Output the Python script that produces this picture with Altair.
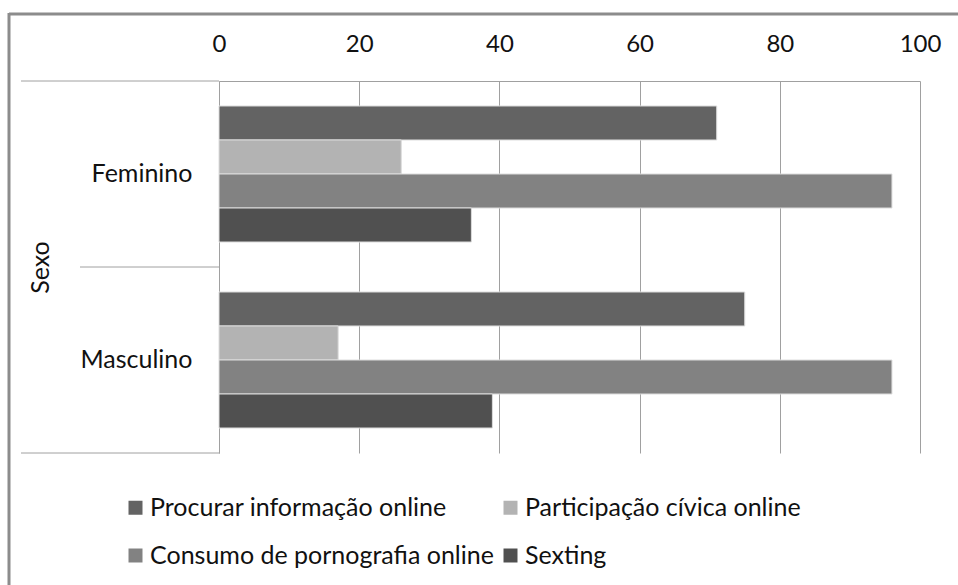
import altair as alt
import pandas as pd

# Categories and values (percentages)
sexo = ["Feminino", "Masculino"]
categorias = [
    "Procurar informação online",
    "Participação cívica online",
    "Consumo de pornografia online",
    "Sexting",
]
feminino = [71, 26, 96, 36]
masculino = [75, 17, 96, 39]
cores = ["#636363", "#b3b3b3", "#828282", "#505050"]
ticks_x = [0, 20, 40, 60, 80, 100]

rows = []
for s, vals in zip(sexo, [feminino, masculino]):
    for c, v in zip(categorias, vals):
        rows.append({"sexo": s, "categoria": c, "valor": v})
df = pd.DataFrame(rows)

FONT = "Lato"
GRID = "#a0a0a0"
TEXT = "#111111"
FS = 25
W, H = 701, 372

bars = alt.Chart(df).mark_bar(stroke="#dcdcdc", strokeWidth=1).encode(
    x=alt.X(
        "valor:Q",
        scale=alt.Scale(domain=[0, 100], nice=False),
        axis=alt.Axis(
            orient="top", values=ticks_x, title=None, grid=True, ticks=False,
            labelPadding=25, labelFontSize=24, labelFlush=False,
        ),
    ),
    y=alt.Y(
        "sexo:N",
        sort=sexo,
        scale=alt.Scale(paddingInner=0, paddingOuter=0),
        axis=alt.Axis(
            title="Sexo", ticks=False, labelPadding=27, labelFontSize=FS,
            titleFontSize=FS, titleFontWeight="normal", titleAngle=270,
            titleX=-179, titleY=H / 2, titleAlign="center", titleBaseline="middle",
        ),
    ),
    yOffset=alt.YOffset(
        "categoria:N", sort=categorias,
        scale=alt.Scale(paddingInner=0, paddingOuter=0.735),
    ),
    color=alt.Color(
        "categoria:N",
        sort=categorias,
        scale=alt.Scale(domain=categorias, range=cores),
        legend=alt.Legend(
            title=None, orient="none", direction="horizontal",
            legendX=-96, legendY=414, columns=2,
            symbolType="square", symbolSize=196, symbolStrokeWidth=0,
            labelFontSize=FS, labelOffset=2, columnPadding=4, rowPadding=22,
            padding=0, labelLimit=500,
        ),
    ),
)

one = alt.Data(values=[{}])

# Category separator lines left of the plot
sep_top = alt.Chart(one).mark_rule(color=GRID, strokeWidth=1).encode(
    x=alt.value(-198), x2=alt.value(0), y=alt.value(0)
)
sep_mid = alt.Chart(one).mark_rule(color=GRID, strokeWidth=1).encode(
    x=alt.value(-139), x2=alt.value(0), y=alt.value(H / 2)
)
sep_bot = alt.Chart(one).mark_rule(color=GRID, strokeWidth=1).encode(
    x=alt.value(-198), x2=alt.value(0), y=alt.value(H)
)

# Outer frame (top and left edges)
frame_top = alt.Chart(one).mark_rule(color="#8c8c8c", strokeWidth=3).encode(
    x=alt.value(-210), x2=alt.value(760), y=alt.value(-67)
)
frame_left = alt.Chart(one).mark_rule(color="#8c8c8c", strokeWidth=3).encode(
    x=alt.value(-210), y=alt.value(-68), y2=alt.value(520)
)

chart = alt.layer(
    bars, sep_top, sep_mid, sep_bot, frame_top, frame_left
).properties(
    width=W,
    height=H,
    autosize=alt.AutoSizeParams(type="none"),
    padding={"left": 219, "top": 81, "right": 38, "bottom": 132},
    background="white",
).configure(
    font=FONT,
).configure_axis(
    labelFont=FONT, titleFont=FONT, labelColor=TEXT, titleColor=TEXT,
    gridColor=GRID, domainColor=GRID, gridOpacity=1,
).configure_legend(
    labelFont=FONT, labelColor=TEXT,
).configure_view(
    stroke=None,
)

chart.save("out.html", embed_options={"renderer": "svg", "actions": False})
